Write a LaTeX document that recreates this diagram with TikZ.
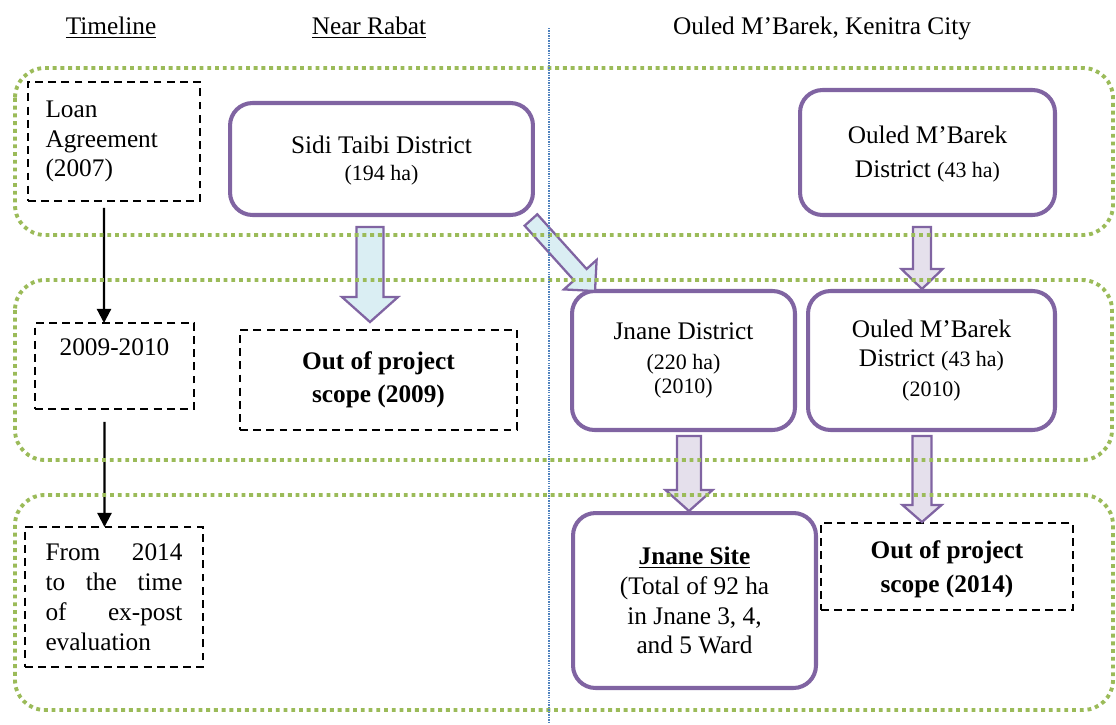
\documentclass[tikz,border=0pt]{standalone}
\usepackage{fontspec}
\setmainfont{Liberation Serif}
\usetikzlibrary{calc,arrows.meta}

\definecolor{boxpurple}{HTML}{8064A2}
\definecolor{phasegreen}{HTML}{9BBB59}
\definecolor{divblue}{HTML}{4F81BD}
\definecolor{rabatfill}{HTML}{DAEEF3}
\definecolor{kenitrafill}{HTML}{E5E0EC}

\newcommand\sm{\fontsize{12.5}{15}\selectfont}

% fat arrow: style, from, to, shaft half width, head half width, head length
\newcommand\fatarrow[6]{%
  \coordinate (fah) at ($(#3)!#6!(#2)$);
  \draw[#1] ($(#2)!#4!90:(#3)$) -- ($(fah)!#4!90:(#3)$) -- ($(fah)!#5!90:(#3)$) -- (#3)
    -- ($(fah)!#5!-90:(#3)$) -- ($(fah)!#4!-90:(#3)$) -- ($(#2)!#4!-90:(#3)$) -- cycle;}

\tikzset{
  district/.style={draw=boxpurple, line width=2.3pt, rounded corners=0.45cm, fill=white,
    align=center, inner sep=0pt, outer sep=0pt},
  period/.style={draw=black, line width=1.1pt, dash pattern=on 4.5pt off 3pt,
    inner sep=0pt, outer sep=0pt},
  outscope/.style={period, align=center, font=\bfseries\fontsize{14.4}{19}\selectfont},
  phase/.style={draw=phasegreen, line width=2.2pt, dash pattern=on 2.2pt off 2.2pt, rounded corners=0.6cm},
  divider/.style={draw=divblue, line width=1.2pt, dash pattern=on 0.8pt off 0.6pt},
  fatblue/.style={draw=boxpurple, line width=1.3pt, fill=rabatfill, line join=miter},
  fatpurple/.style={fatblue, fill=kenitrafill},
  tlarrow/.style={line width=1.2pt, -{Triangle[length=8pt,width=8pt]}},
}

\begin{document}
\begin{tikzpicture}[x=0.02cm, y=-0.02cm, font=\fontsize{14.4}{17}\selectfont]
\useasboundingbox (0,0) rectangle (1116,724);

% Column headings
\node (hdtime) at (111,28) {\underline{Timeline}};
\node (hdrabat) at (369,28) {\underline{Near Rabat}};
\node (hdkenitra) at (822,28) {Ouled M'Barek, Kenitra City};

% Timeline
\node[period, minimum width=3.44cm, minimum height=2.38cm, text width=2.74cm, align=left]
  (loan) at (114,141.5) {Loan\\Agreement\\(2007)};
\node[period, minimum width=3.18cm, minimum height=1.72cm, align=center]
  (y2009) at (114.5,366) {2009-2010\\\strut};
\node[period, minimum width=3.56cm, minimum height=2.8cm, text width=2.74cm, align=left]
  (y2014) at (114,597) {From\hfill 2014\\to\hfill the\hfill time\\of\hfill ex-post\\evaluation};

\draw[tlarrow] ([shift={(-10,7)}]loan.south) -- ([xshift=-0.21cm]y2009.north);
\draw[tlarrow] ([shift={(-10,13)}]y2009.south) -- ([xshift=-0.19cm]y2014.north);

% Districts
\node[district, minimum width=6.06cm, minimum height=2.24cm] (sidi) at (381.5,159)
  {\strut Sidi Taibi District\\[-2pt]{\sm(194 ha)}};
\node[district, minimum width=5.1cm, minimum height=2.5cm] (ouled1) at (927.5,152.5)
  {\strut Ouled M'Barek\\[2pt]District {\sm(43 ha)}};
\node[outscope, minimum width=5.54cm, minimum height=2cm] (oos09) at (378.5,380)
  {Out of project\\scope (2009)};
\node[district, minimum width=4.46cm, minimum height=2.78cm] (jnane) at (683.5,360.5)
  {Jnane District\\{\sm(220 ha)}\\[-3pt]{\sm(2010)}};
\node[district, minimum width=4.94cm, minimum height=2.78cm] (ouled2) at (931.5,360.5)
  {Ouled M'Barek\\District {\sm(43 ha)}\\{\sm(2010)}};
\node[district, minimum width=4.86cm, minimum height=3.5cm] (site) at (694.5,600.5)
  {\textbf{\underline{Jnane Site}}\\(Total of 92 ha\\in Jnane 3, 4,\\and 5 Ward};
\node[outscope, minimum width=5.04cm, minimum height=1.74cm] (oos14) at (947,566.5)
  {\strut Out of project\\scope (2014)};

% Fat arrows
\coordinate (a1s) at ([shift={(-11.5,12)}]sidi.south);
\coordinate (a1e) at ([shift={(-8.5,-8)}]oos09.north);
\coordinate (a2s) at ([shift={(-2,5)}]sidi.south east);
\coordinate (a2e) at ([shift={(23,0)}]jnane.north west);
\coordinate (a3s) at ([shift={(-5.5,12)}]ouled1.south);
\coordinate (a3e) at ([shift={(-9.5,-2)}]ouled2.north);
\coordinate (a4s) at ([shift={(5.5,6)}]jnane.south);
\coordinate (a4e) at ([shift={(-5.5,-2)}]site.north);
\coordinate (a5s) at ([shift={(-9.5,6)}]ouled2.south);
\coordinate (a5e) at ([shift={(-25,-1)}]oos14.north);

\fatarrow{fatblue}{a1s}{a1e}{0.27cm}{0.56cm}{0.5cm}
\fatarrow{fatblue}{a2s}{a2e}{0.17cm}{0.44cm}{0.44cm}
\fatarrow{fatpurple}{a3s}{a3e}{0.18cm}{0.41cm}{0.4cm}
\fatarrow{fatpurple}{a4s}{a4e}{0.24cm}{0.47cm}{0.42cm}
\fatarrow{fatpurple}{a5s}{a5e}{0.19cm}{0.39cm}{0.34cm}

% Phase bands and divider
\draw[phase] (15,68) rectangle (1113,235);
\draw[phase] (15,280) rectangle (1112,460);
\draw[phase] (15,495) rectangle (1113,710);
\draw[divider] (549,28) -- (549,724);
\end{tikzpicture}
\end{document}
